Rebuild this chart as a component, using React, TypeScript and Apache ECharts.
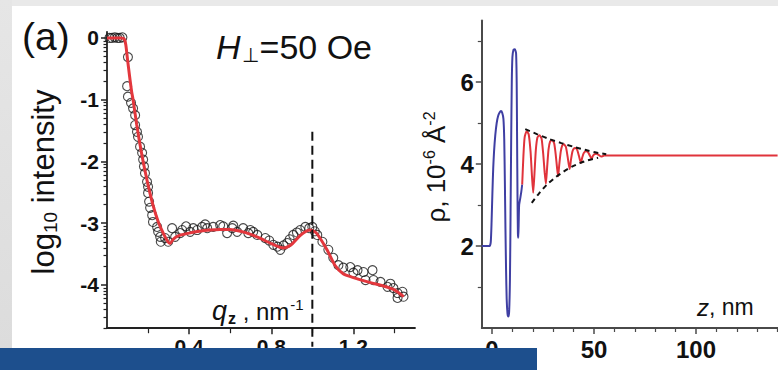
import React, { useEffect, useRef } from "react";
import * as echarts from "echarts";

// ---------- Panel (a) left: reflectivity ----------
const measuredQz = [
  0.012, 0.025, 0.038, 0.05, 0.062, 0.075,
  0.102, 0.098, 0.102, 0.117, 0.127, 0.137, 0.137, 0.146, 0.151, 0.161, 0.171, 0.176, 0.18, 0.185,
  0.195, 0.2, 0.2, 0.205, 0.21, 0.22, 0.224, 0.244, 0.249, 0.259, 0.262, 0.283, 0.298, 0.317, 0.332,
  0.356, 0.366, 0.385, 0.405, 0.42, 0.439, 0.463, 0.478, 0.488, 0.517, 0.551, 0.566, 0.585, 0.61,
  0.615, 0.634, 0.663, 0.688, 0.698, 0.712, 0.732, 0.771, 0.79, 0.81, 0.83, 0.844, 0.86, 0.878,
  0.89, 0.907, 0.925, 0.941, 0.966, 0.985, 1.0, 1.012, 1.024, 1.049, 1.078, 1.102, 1.127, 1.151,
  1.185, 1.2, 1.22, 1.249, 1.259, 1.293, 1.298, 1.332, 1.366, 1.38, 1.395, 1.415, 1.439, 1.415, 1.444,
];
const measuredLogI = [
  0.0, 0.0, 0.01, 0.0, 0.0, 0.01,
  -0.31, -0.78, -0.95, -1.05, -1.14, -1.25, -1.41, -1.52, -1.6, -1.76, -1.86, -1.97, -2.08, -2.19,
  -2.33, -2.41, -2.51, -2.65, -2.75, -2.87, -2.98, -3.06, -3.14, -3.22, -3.3, -3.24, -3.3, -3.08, -3.22,
  -3.16, -3.11, -3.05, -3.14, -3.08, -3.11, -3.06, -3.02, -3.08, -3.06, -3.03, -3.05, -3.16, -3.08,
  -3.04, -3.14, -3.08, -3.16, -3.11, -3.14, -3.19, -3.24, -3.28, -3.35, -3.38, -3.43, -3.36, -3.32,
  -3.26, -3.19, -3.15, -3.11, -3.06, -3.08, -3.06, -3.13, -3.19, -3.3, -3.43, -3.56, -3.68, -3.72,
  -3.71, -3.8, -3.76, -3.79, -3.92, -3.76, -3.92, -3.95, -4.03, -3.98, -4.05, -4.13, -4.11, -4.21, -4.19,
];
const fitQz = [
  0, 0.07, 0.085, 0.092, 0.1, 0.11, 0.12, 0.127, 0.145, 0.161, 0.176, 0.2, 0.225, 0.25, 0.275, 0.295,
  0.307, 0.322, 0.35, 0.4, 0.45, 0.5, 0.55, 0.6, 0.65, 0.7, 0.75, 0.8, 0.86, 0.9, 0.94, 0.97, 0.99,
  1.02, 1.07, 1.11, 1.15, 1.2, 1.27, 1.35, 1.4, 1.445,
];
const fitLogI = [
  0, 0, -0.02, -0.12, -0.35, -0.62, -0.87, -1.0, -1.41, -1.73, -2.0, -2.38, -2.72, -2.98, -3.17, -3.29,
  -3.33, -3.26, -3.2, -3.16, -3.13, -3.11, -3.1, -3.1, -3.13, -3.18, -3.25, -3.33, -3.4, -3.34, -3.2,
  -3.13, -3.11, -3.16, -3.42, -3.68, -3.82, -3.88, -3.95, -4.02, -4.08, -4.19,
];
const markerQz = [1.0, 1.0];
const markerLogI = [-1.52, -5.0];
const leftXLabels = [0.4, 0.8, 1.2];
const leftXMinor = [0.2, 0.6, 1.0, 1.4];
const leftYLabels = [0, -1, -2, -3, -4];

// ---------- Panel right: SLD profile ----------
const blueZ = [
  -5, -1.2, -0.6, -0.2, 0.2, 0.6, 1.0, 1.6, 2.3, 3.0, 3.8, 4.4, 5.0, 5.6, 6.0, 6.3, 6.6, 6.9, 7.2, 7.6,
  8.0, 8.4, 8.8, 9.1, 9.4, 9.7, 10.0, 10.5, 11.2, 11.8, 12.1, 12.3, 12.5, 12.7, 12.9, 13.1, 13.3, 13.8,
  14.3, 14.8,
];
const blueRho = [
  2.0, 2.0, 2.1, 2.6, 3.3, 3.9, 4.3, 4.7, 5.0, 5.17, 5.26, 5.29, 5.25, 5.1, 4.6, 3.6, 2.4, 1.4, 0.7, 0.35,
  0.28, 0.4, 1.2, 2.8, 4.6, 6.0, 6.6, 6.78, 6.8, 6.7, 6.0, 4.6, 3.2, 2.3, 2.2, 2.6, 3.0, 3.15, 3.3, 3.5,
];
const redZ = [
  14.8, 15.4, 16.0, 17.0, 18.0, 18.9, 19.6, 20.2, 20.8, 21.5, 22.3, 23.3, 24.3, 25.1, 25.8, 26.4, 27.0,
  27.7, 28.5, 29.5, 30.5, 31.3, 31.9, 32.4, 33.0, 33.7, 34.4, 35.2, 36.2, 37.0, 37.6, 38.1, 38.7, 39.4,
  40.0, 40.8, 41.8, 42.6, 43.1, 43.6, 44.2, 45.0, 46.2, 47.2, 48.0, 48.8, 49.5, 50.3, 51.2, 52.3, 53.6,
  55.0, 57.0, 140,
];
const redRho = [
  3.5, 4.2, 4.65, 4.8, 4.72, 4.3, 3.7, 3.3, 3.75, 4.35, 4.65, 4.7, 4.62, 4.25, 3.8, 3.52, 3.9,
  4.35, 4.55, 4.58, 4.5, 4.2, 3.9, 3.7, 4.0, 4.3, 4.45, 4.48, 4.42, 4.2, 4.0, 3.88, 4.1, 4.3,
  4.37, 4.39, 4.34, 4.2, 4.1, 4.03, 4.15, 4.27, 4.31, 4.28, 4.2, 4.13, 4.2, 4.24, 4.25, 4.22, 4.18,
  4.21, 4.21, 4.21,
];
const upperEnvZ = [16.3, 22, 28, 34, 40, 46, 51, 56];
const upperEnvRho = [4.85, 4.73, 4.61, 4.51, 4.42, 4.34, 4.28, 4.24];
const lowerEnvZ = [19.5, 23, 27, 31, 35, 39, 43, 47, 52];
const lowerEnvRho = [3.05, 3.28, 3.5, 3.67, 3.81, 3.93, 4.02, 4.09, 4.15];
const rightXLabels = [0, 50, 100];
const rightXMinor = [10, 20, 30, 40, 60, 70, 80, 90, 110, 120, 130, 140];
const rightYLabels = [2, 4, 6];
const rightYMinor = [1, 3, 5, 7];

const zip = (a: number[], b: number[]) => a.map((v, i) => [v, b[i]]);

const FONT = "'Liberation Sans', Arial, Helvetica, sans-serif";

function logMinorTicks(): number[] {
  const out: number[] = [];
  for (const d of [0, -1, -2, -3, -4, -5]) {
    for (let k = 2; k <= 9; k++) {
      const v = d - 1 + Math.log10(k);
      if (v > -4.7 && v < 0.1) out.push(+v.toFixed(4));
    }
  }
  return out;
}

export default function App() {
  const ref = useRef<HTMLDivElement>(null);
  useEffect(() => {
    if (!ref.current) return;
    const chart = echarts.init(ref.current, null, { renderer: "svg" });
    const leftAxisColor = "#222";
    const rightAxisColor = "#4a4a4a";
    const majorAxis = (
      gridIndex: number,
      min: number,
      max: number,
      labels: number[],
      color: string,
      width: number,
      fontSize: number,
      margin: number,
      fmt?: (v: number) => string
    ) => ({
      type: "value",
      gridIndex,
      min,
      max,
      axisLine: { show: true, onZero: false, lineStyle: { color, width } },
      axisTick: { show: true, customValues: labels, length: 6, lineStyle: { color, width: 1.5 } },
      axisLabel: {
        show: true,
        customValues: labels,
        fontSize,
        fontWeight: "bold",
        fontFamily: FONT,
        color: "#111",
        margin,
        formatter: fmt || ((v: number) => String(v)),
      },
      splitLine: { show: false },
    });
    const minorAxis = (gridIndex: number, min: number, max: number, ticks: number[], color: string, length: number) => ({
      type: "value",
      gridIndex,
      min,
      max,
      axisLine: { show: false, onZero: false },
      axisTick: { show: true, customValues: ticks, length, lineStyle: { color, width: 1.2 } },
      axisLabel: { show: false },
      splitLine: { show: false },
    });

    const option: any = {
      animation: false,
      backgroundColor: "#ffffff",
      grid: [
        { left: 107, top: 31.8, width: 308, height: 296.4, outerBoundsMode: "none", containLabel: false },
        { left: 481.8, top: 20.5, width: 295.8, height: 307.5, outerBoundsMode: "none", containLabel: false },
      ],
      xAxis: [
        { ...majorAxis(0, 0, 1.5, leftXLabels, leftAxisColor, 1.8, 21, 8, (v: number) => v.toFixed(1)), position: "bottom" },
        { ...minorAxis(0, 0, 1.5, leftXMinor, leftAxisColor, 5), position: "bottom" },
        { ...majorAxis(1, -5, 140, rightXLabels, rightAxisColor, 2, 24, 9), position: "bottom" },
        { ...minorAxis(1, -5, 140, rightXMinor, rightAxisColor, 4), position: "bottom" },
      ],
      yAxis: [
        { ...majorAxis(0, -4.7, 0.1, leftYLabels, leftAxisColor, 1.8, 21, 8), position: "left" },
        { ...minorAxis(0, -4.7, 0.1, logMinorTicks(), leftAxisColor, 3.5), position: "left" },
        { ...majorAxis(1, 0, 7.5, rightYLabels, rightAxisColor, 2, 24, 8), position: "left" },
        { ...minorAxis(1, 0, 7.5, rightYMinor, rightAxisColor, 4), position: "left" },
      ],
      series: [
        {
          type: "scatter",
          xAxisIndex: 0,
          yAxisIndex: 0,
          data: zip(measuredQz, measuredLogI),
          symbol: "circle",
          symbolSize: 9,
          itemStyle: { color: "rgba(255,255,255,0)", borderColor: "#1a1a1a", borderWidth: 1.1 },
          z: 2,
        },
        {
          type: "line",
          xAxisIndex: 0,
          yAxisIndex: 0,
          data: zip(fitQz, fitLogI),
          showSymbol: false,
          smooth: 0.25,
          lineStyle: { color: "#e3373d", width: 3 },
          z: 3,
        },
        {
          type: "line",
          xAxisIndex: 0,
          yAxisIndex: 0,
          data: zip(markerQz, markerLogI),
          showSymbol: false,
          clip: false,
          lineStyle: { color: "#111", width: 2, type: [9, 5] },
          z: 4,
        },
        {
          type: "line",
          xAxisIndex: 2,
          yAxisIndex: 2,
          data: zip(blueZ, blueRho),
          showSymbol: false,
          smooth: 0.2,
          lineStyle: { color: "#3f3fa3", width: 2 },
          z: 3,
        },
        {
          type: "line",
          xAxisIndex: 2,
          yAxisIndex: 2,
          data: zip(redZ, redRho),
          showSymbol: false,
          smooth: 0.2,
          lineStyle: { color: "#e0333b", width: 2 },
          z: 3,
        },
        {
          type: "line",
          xAxisIndex: 2,
          yAxisIndex: 2,
          data: zip(upperEnvZ, upperEnvRho),
          showSymbol: false,
          smooth: 0.3,
          lineStyle: { color: "#111", width: 2, type: [5, 4] },
          z: 4,
        },
        {
          type: "line",
          xAxisIndex: 2,
          yAxisIndex: 2,
          data: zip(lowerEnvZ, lowerEnvRho),
          showSymbol: false,
          smooth: 0.3,
          lineStyle: { color: "#111", width: 2, type: [5, 4] },
          z: 4,
        },
      ],
      graphic: [
        { type: "rect", z: 0, shape: { x: 0, y: 0, width: 778, height: 6 }, style: { fill: "#e9e9e9" } },
        {
          type: "rect",
          z: 0,
          shape: { x: 0, y: 0, width: 12, height: 348 },
          style: {
            fill: new echarts.graphic.LinearGradient(0, 0, 0, 1, [
              { offset: 0, color: "#e6e6e6" },
              { offset: 1, color: "#dcdcdc" },
            ]),
          },
        },
        { type: "rect", z: 100, shape: { x: 0, y: 348, width: 537, height: 22 }, style: { fill: "#1d4f8d" } },
        {
          type: "text",
          x: 22,
          y: 36,
          z: 10,
          style: { text: "(a)", fontSize: 39, fontFamily: FONT, fill: "#111", verticalAlign: "middle", align: "left" },
        },
        {
          type: "text",
          x: 216,
          y: 47,
          z: 10,
          style: {
            text: "{i|H}{s|⊥}{n|=50 Oe}",
            verticalAlign: "middle",
            align: "left",
            lineHeight: 40,
            rich: {
              i: { fontSize: 34, fontStyle: "italic", fontFamily: FONT, fill: "#111" },
              s: { fontSize: 20, fontFamily: FONT, fill: "#111", padding: [16, 1, 0, 1] },
              n: { fontSize: 34, fontFamily: FONT, fill: "#111" },
            },
          },
        },
        {
          type: "text",
          x: 212,
          y: 311,
          z: 10,
          style: {
            text: "{q|q}{z|z}{n| , nm}{e|-1}",
            verticalAlign: "middle",
            align: "left",
            lineHeight: 30,
            rich: {
              q: { fontSize: 27, fontStyle: "italic", fontFamily: FONT, fill: "#111" },
              z: { fontSize: 16, fontWeight: "bold", fontFamily: FONT, fill: "#111", padding: [14, 0, 0, 1] },
              n: { fontSize: 24, fontFamily: FONT, fill: "#111" },
              e: { fontSize: 15, fontFamily: FONT, fill: "#111", padding: [0, 0, 14, 1] },
            },
          },
        },
        {
          type: "text",
          x: 697,
          y: 307,
          z: 10,
          style: {
            text: "{z|z}{n|, nm}",
            verticalAlign: "middle",
            align: "left",
            lineHeight: 28,
            rich: {
              z: { fontSize: 24, fontStyle: "italic", fontFamily: FONT, fill: "#111" },
              n: { fontSize: 23, fontFamily: FONT, fill: "#111" },
            },
          },
        },
        {
          type: "text",
          x: 43,
          y: 182,
          z: 10,
          rotation: Math.PI / 2,
          style: {
            text: "{a|log}{b|10}{a| intensity}",
            verticalAlign: "middle",
            align: "center",
            lineHeight: 36,
            rich: {
              a: { fontSize: 31, fontFamily: FONT, fill: "#111" },
              b: { fontSize: 19, fontFamily: FONT, fill: "#111", padding: [15, 0, 0, 0] },
            },
          },
        },
        {
          type: "text",
          x: 436,
          y: 167,
          z: 10,
          rotation: Math.PI / 2,
          style: {
            text: "{a|ρ, 10}{b|-6}{a| Å}{b|-2}",
            verticalAlign: "middle",
            align: "center",
            lineHeight: 32,
            rich: {
              a: { fontSize: 26, fontFamily: FONT, fill: "#111" },
              b: { fontSize: 16, fontFamily: FONT, fill: "#111", padding: [0, 0, 14, 0] },
            },
          },
        },
      ],
    };
    chart.setOption(option);
    return () => chart.dispose();
  }, []);
  return <div ref={ref} style={{ position: "absolute", left: 0, top: 0, width: 778, height: 370 }} />;
}
